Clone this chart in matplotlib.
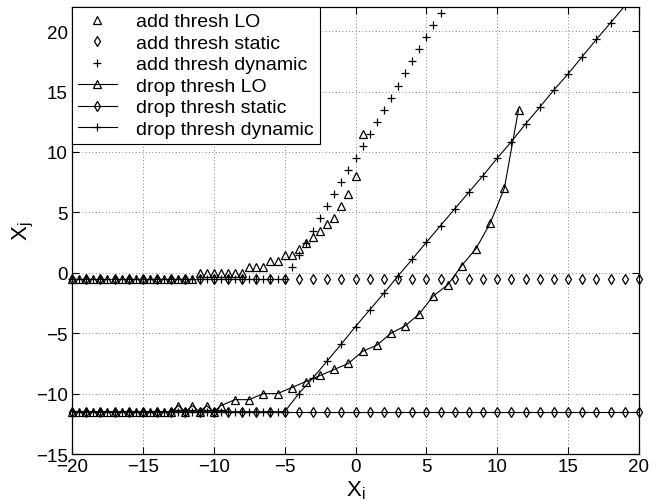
import numpy as np
import matplotlib
matplotlib.use("Agg")
import matplotlib.pyplot as plt

plt.rcParams['font.family'] = ['Liberation Sans', 'DejaVu Sans']
plt.rcParams['mathtext.default'] = 'regular'

# add thresholds
add_lo_x = np.arange(-20, 0.51, 0.5)
add_lo_y = ([-0.5] * 18 + [0.0] * 7 + [0.5] * 3 + [1.0] * 2 + [1.5] * 2
            + [2.0, 2.5, 3.0, 3.5, 4.0, 4.5, 5.5, 6.5, 8.0, 11.5])

static_x = np.arange(-20, 20.1, 1)
add_static_y = [-0.5] * 41

add_dyn_x = np.arange(-20, 6.01, 0.5)
add_dyn_y = ([-0.5] * 31
             + [0.5, 1.5, 2.5, 3.5, 4.5, 5.5, 6.5, 7.5, 8.5, 9.5, 10.5,
                11.5, 12.5, 13.5, 14.5, 15.5, 16.5, 17.5, 18.5, 19.5, 20.5, 21.5])

# drop thresholds
drop_lo_x = np.concatenate([np.arange(-20, -9.49, 0.5), np.arange(-8.5, 11.51, 1)])
drop_lo_y = ([-11.5] * 15 + [-11.0, -11.5, -11.0, -11.5, -11.0, -11.5, -11.0]
             + [-10.5, -10.5, -10.0, -10.0, -9.5, -9.0, -8.5, -8.0, -7.5, -6.5,
                -6.0, -5.0, -4.4, -3.4, -1.9, -1.0, 0.6, 2.0, 4.1, 7.0, 13.5])

drop_static_y = [-11.5] * 41

drop_dyn_x = np.concatenate([np.arange(-20, -4.99, 0.5), np.arange(-4, 19.01, 1)])
drop_dyn_y = ([-11.5] * 31
              + [-10.0, -8.7, -7.3, -5.9, -4.45, -3.07, -1.69, -0.26, 1.12, 2.53,
                 3.91, 5.29, 6.67, 8.05, 9.49, 10.86, 12.33, 13.71, 15.14, 16.47,
                 17.9, 19.33, 20.7, 22.1])

fig = plt.figure(figsize=(6.63, 5.02), dpi=100)
ax = fig.add_axes([0.1086, 0.0936, 0.8552, 0.8904])

mk = dict(color='k', markerfacecolor='none', markeredgecolor='k', markeredgewidth=0.9)
ax.plot(add_lo_x, add_lo_y, linestyle='none', marker='^', markersize=6.3,
        label='add thresh LO', clip_on=False, **mk)
ax.plot(static_x, add_static_y, linestyle='none', marker='d', markersize=5.5,
        label='add thresh static', clip_on=False, **mk)
ax.plot(add_dyn_x, add_dyn_y, linestyle='none', marker='+', markersize=5.5,
        label='add thresh dynamic', clip_on=False, **mk)
ax.plot(drop_lo_x, drop_lo_y, linestyle='-', linewidth=0.8, marker='^', markersize=6.3,
        label='drop thresh LO', clip_on=False, **mk)
ax.plot(static_x, drop_static_y, linestyle='-', linewidth=0.8, marker='d', markersize=5.5,
        label='drop thresh static', clip_on=False, **mk)
ax.plot(drop_dyn_x, drop_dyn_y, linestyle='-', linewidth=0.8, marker='+', markersize=5.5,
        label='drop thresh dynamic', **mk)

ax.set_xlim(-20, 20)
ax.set_ylim(-15, 22)
ax.set_xticks(np.arange(-20, 21, 5))
ax.set_yticks(np.arange(-15, 21, 5))
ax.set_xticklabels(['\u221220', '\u221215', '\u221210', '\u22125', '0', '5', '10', '15', '20'])
ax.set_yticklabels(['\u221215', '\u221210', '\u22125', '0', '5', '10', '15', '20'])
ax.tick_params(direction='in', top=True, right=True, length=5, width=0.8,
               labelsize=13.5, pad=3)
ax.grid(True, color='0.35', linestyle=(0, (1, 3)), linewidth=0.6)
for s in ax.spines.values():
    s.set_linewidth(0.9)

ax.set_xlabel('X$_i$', fontsize=16, labelpad=2)
ax.set_ylabel('X$_j$', fontsize=16, labelpad=0)

leg = ax.legend(loc='upper left', bbox_to_anchor=(0, 1), borderaxespad=0,
                fontsize=14, numpoints=1, handlelength=2.0, handletextpad=1.0,
                labelspacing=0.2, borderpad=0.3, fancybox=False, framealpha=1,
                edgecolor='k')
leg.get_frame().set_linewidth(0.8)

fig.savefig('out.png', dpi=100)
